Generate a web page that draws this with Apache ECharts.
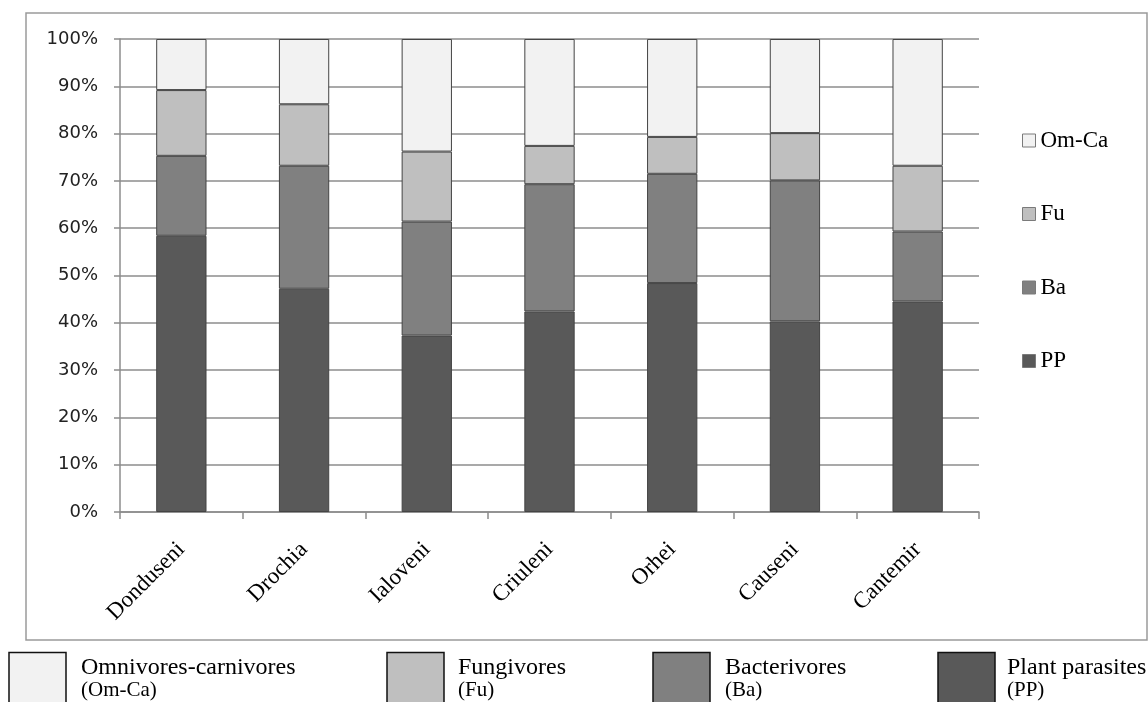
<!DOCTYPE html>
<html>
<head>
<meta charset="utf-8">
<script src="https://cdn.jsdelivr.net/npm/echarts@6/dist/echarts.min.js"></script>
<style>
html,body{margin:0;padding:0;background:#fff;}
#chart{width:1148px;height:702px;}
</style>
</head>
<body>
<div id="chart"></div>
<script>
const categories = ['Donduseni','Drochia','Ialoveni','Criuleni','Orhei','Causeni','Cantemir'];
const ppValues = [58.4, 47.2, 37.3, 42.4, 48.4, 40.3, 44.5];
const baValues = [16.9, 26.0, 24.1, 26.9, 23.1, 29.8, 14.8];
const fuValues = [13.9, 13.0, 14.8, 8.1, 7.8, 10.0, 13.9];
const omValues = [10.8, 13.8, 23.8, 22.6, 20.7, 19.9, 26.8];
const yTicks = [0,10,20,30,40,50,60,70,80,90,100];

const seriesNames = ['PP','Ba','Fu','Om-Ca'];
const seriesColors = ['#595959','#808080','#bfbfbf','#f2f2f2'];
const seriesData = [ppValues, baValues, fuValues, omValues];

const bottomLegend = [
  {label:'Omnivores-carnivores', abbr:'(Om-Ca)', color:'#f2f2f2', bx:9, tx:81},
  {label:'Fungivores', abbr:'(Fu)', color:'#bfbfbf', bx:387, tx:458},
  {label:'Bacterivores', abbr:'(Ba)', color:'#808080', bx:653, tx:725},
  {label:'Plant parasites', abbr:'(PP)', color:'#595959', bx:938, tx:1007}
];

const chart = echarts.init(document.getElementById('chart'), null, {renderer:'canvas'});

const graphics = [
  {type:'rect', shape:{x:26, y:13, width:1121, height:627}, style:{fill:'none', stroke:'#9a9a9a', lineWidth:1.5}, silent:true, z:-10}
];
bottomLegend.forEach(b => {
  graphics.push({type:'rect', shape:{x:b.bx, y:652.5, width:57, height:60}, style:{fill:b.color, stroke:'#111', lineWidth:1.5}});
  graphics.push({type:'text', x:b.tx, y:668, style:{text:b.label, font:'24px "Liberation Serif", "Times New Roman", serif', fill:'#000', verticalAlign:'middle', align:'left'}});
  graphics.push({type:'text', x:b.tx, y:690, style:{text:b.abbr, font:'21px "Liberation Serif", "Times New Roman", serif', fill:'#000', verticalAlign:'middle', align:'left'}});
});

const option = {
  animation:false,
  backgroundColor:'#fff',
  grid:{left:120, top:39, right:169, bottom:190, containLabel:false},
  legend:{
    orient:'vertical',
    left:1022, top:129, padding:0,
    itemWidth:13, itemHeight:13, itemGap:50.5,
    icon:'rect',
    data:['Om-Ca','Fu','Ba','PP'],
    itemStyle:{borderColor:'#7a7a7a', borderWidth:1},
    textStyle:{fontFamily:'"Liberation Serif", "Times New Roman", serif', fontSize:23, color:'#000', padding:[0,0,0,0]}
  },
  xAxis:{
    type:'category',
    data:categories,
    boundaryGap:true,
    axisLine:{lineStyle:{color:'#8c8c8c', width:1.5}},
    axisTick:{show:true, length:7, lineStyle:{color:'#8c8c8c', width:1.5}},
    axisLabel:{rotate:45, margin:34, fontFamily:'"Liberation Serif", "Times New Roman", serif', fontSize:23, color:'#000'}
  },
  yAxis:{
    type:'value',
    min:0, max:100, interval:10,
    axisLine:{show:true, lineStyle:{color:'#8c8c8c', width:1.5}},
    axisTick:{show:true, length:6, lineStyle:{color:'#8c8c8c', width:1.5}},
    splitLine:{show:true, lineStyle:{color:'#8c8c8c', width:1.5}},
    axisLabel:{margin:22, formatter:function(v){return yTicks.indexOf(v)>=0 ? v+'%' : '';}, fontFamily:'"DejaVu Sans", sans-serif', fontSize:18, color:'#222'}
  },
  series: seriesNames.map((name,i)=>({
    name:name,
    type:'bar',
    stack:'total',
    data:seriesData[i],
    barWidth:'41%',
    itemStyle:{color:seriesColors[i], borderColor:'#444', borderWidth:1},
    emphasis:{disabled:true}
  })),
  graphic: graphics
};
chart.setOption(option);
</script>
</body>
</html>
